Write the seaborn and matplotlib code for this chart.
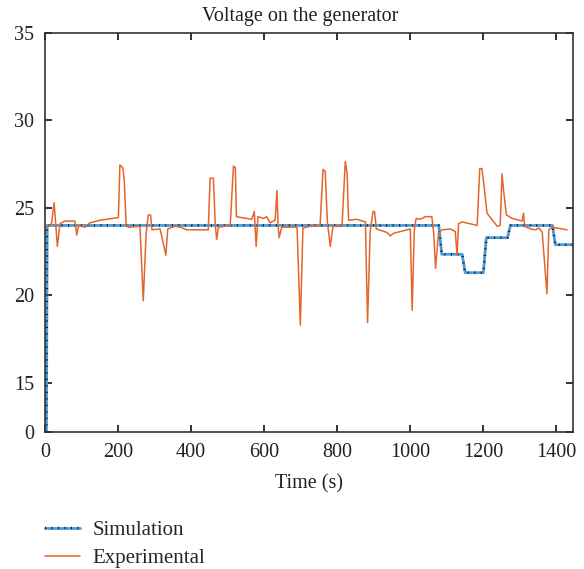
import numpy as np
import pandas as pd
import seaborn as sns
import matplotlib.pyplot as plt

# simulation (step response of generator voltage)
sim_t = [4, 6, 1078, 1086, 1142, 1150, 1200, 1208, 1266, 1274, 1389, 1397, 1445]
sim_v = [0, 24.0, 24.0, 22.35, 22.35, 21.3, 21.3, 23.3, 23.3, 24.0, 24.0, 22.9, 22.9]

# experimental measurement
exp_t = [5, 18, 25, 34, 41, 55, 82, 87, 92, 110, 123, 151, 201, 205, 213, 217, 222, 228,
         260, 269, 277, 283, 289, 293, 315, 331, 336, 356, 370, 388, 447, 452, 461, 466,
         470, 475, 507, 516, 521, 524, 566, 573, 578, 583, 598, 607, 616, 630, 635, 638,
         641, 648, 690, 699, 706, 726, 753, 761, 767, 773, 781, 788, 813, 822, 827, 831,
         854, 877, 883, 890, 898, 902, 907, 936, 945, 954, 1000, 1005, 1011, 1016, 1027,
         1041, 1059, 1064, 1069, 1077, 1087, 1110, 1123, 1128, 1132, 1142, 1183, 1190,
         1196, 1201, 1210, 1238, 1246, 1251, 1256, 1263, 1279, 1306, 1310, 1313, 1329,
         1342, 1353, 1361, 1374, 1379, 1388, 1429]
exp_v = [23.9, 24.1, 25.3, 22.8, 24.1, 24.25, 24.25, 23.45, 24.0, 23.9, 24.15, 24.3, 24.45,
         27.45, 27.3, 26.6, 24.1, 23.9, 23.95, 19.7, 23.6, 24.6, 24.6, 23.75, 23.8, 22.3,
         23.8, 23.95, 23.9, 23.75, 23.75, 26.7, 26.7, 24.1, 23.2, 23.9, 24.0, 27.4, 27.3,
         24.5, 24.35, 24.8, 22.8, 24.5, 24.4, 24.5, 24.15, 24.3, 26.0, 24.0, 23.3, 23.9,
         23.9, 18.3, 23.85, 23.95, 24.0, 27.2, 27.1, 24.2, 22.8, 23.95, 23.95, 27.65, 27.0,
         24.3, 24.35, 24.2, 18.45, 23.65, 24.8, 24.8, 23.8, 23.6, 23.4, 23.55, 23.8, 19.15,
         23.75, 24.4, 24.35, 24.5, 24.5, 23.55, 21.55, 23.55, 23.75, 23.8, 23.65, 22.3, 24.1,
         24.2, 24.0, 27.25, 27.25, 26.4, 24.7, 23.95, 24.0, 26.95, 25.85, 24.6, 24.4, 24.25,
         24.7, 23.95, 23.8, 23.75, 23.85, 23.6, 20.1, 23.75, 23.9, 23.75]

y_ticks = [0, 15, 20, 25, 30, 35]
x_ticks = np.arange(0, 1401, 200)

sim = pd.DataFrame({"t": sim_t, "v": sim_v})
exp = pd.DataFrame({"t": exp_t, "v": exp_v})

sns.set_style("ticks")
plt.rcParams["font.family"] = ["Liberation Serif", "DejaVu Serif"]

fig = plt.figure(figsize=(5.84, 5.69), dpi=100)
ax = fig.add_axes([0.077, 0.241, 0.904, 0.701])

blue = "#4b9bd9"
orange = "#e5652f"

sns.lineplot(data=sim, x="t", y="v", ax=ax, color=blue, linewidth=2.0,
             estimator=None, sort=False, legend=False)
l_blue = ax.lines[-1]
sns.lineplot(data=sim, x="t", y="v", ax=ax, color="#111111", linewidth=1.7,
             estimator=None, sort=False, legend=False)
l_dots = ax.lines[-1]
l_dots.set_linestyle((0, (0.45, 2.3)))
sns.lineplot(data=exp, x="t", y="v", ax=ax, color=orange, linewidth=1.1,
             estimator=None, sort=False, legend=False)
l_exp = ax.lines[-1]

# compressed lower part of the axis (0-15)
k = 2.8 / 15
def fwd(y):
    y = np.asarray(y, dtype=float)
    return np.where(y >= 15, y, 15 - (15 - y) * k)
def inv(z):
    z = np.asarray(z, dtype=float)
    return np.where(z >= 15, z, 15 - (15 - z) / k)
ax.set_yscale("function", functions=(fwd, inv))

ax.set_xlim(0, 1445)
ax.set_ylim(0, 35)
ax.set_xticks(x_ticks)
ax.set_yticks(y_ticks)
ax.tick_params(direction="in", length=5, width=1.3, labelsize=14.5, colors="#222222",
               top=True, right=True)
ax.tick_params(axis="x", pad=8)
ax.tick_params(axis="y", pad=8)
for s in ax.spines.values():
    s.set_linewidth(1.2)
    s.set_color("#333333")

ax.set_xlabel("Time (s)", fontsize=14.5, color="#222222", labelpad=9)
ax.set_ylabel("")
ax.set_title("Voltage on the generator", fontsize=14.5, color="#222222", pad=9, x=0.483)

fig.legend([(l_blue, l_dots), l_exp], ["Simulation", "Experimental"],
           loc="upper left", bbox_to_anchor=(0.062, 0.100), frameon=False,
           fontsize=15, handlelength=1.7, handletextpad=0.6, labelspacing=0.4,
           borderaxespad=0)

fig.savefig("out.png", dpi=100)
